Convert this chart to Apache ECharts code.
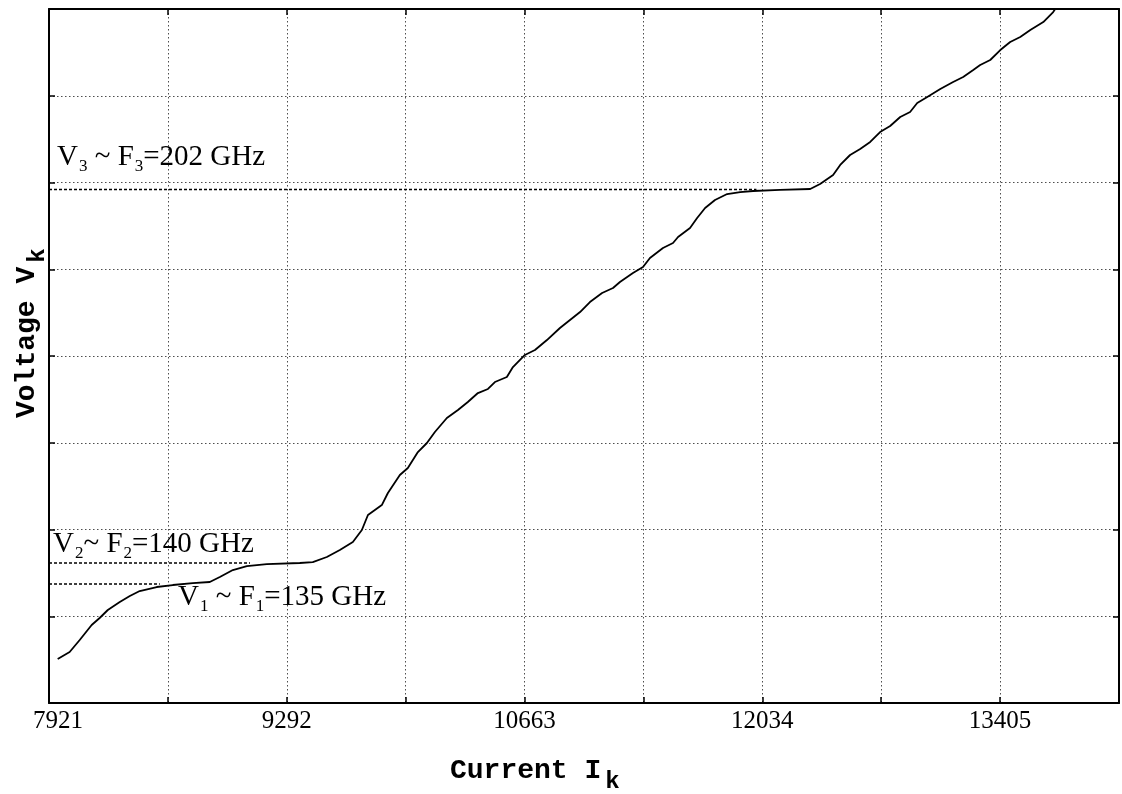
<!DOCTYPE html>
<html>
<head>
<meta charset="utf-8">
<script src="https://cdn.jsdelivr.net/npm/echarts@6/dist/echarts.min.js"></script>
<style>
html,body{margin:0;padding:0;background:#fff;}
#chart{width:1122px;height:794px;}
</style>
</head>
<body>
<div id="chart"></div>
<script>
// ---- data ----
// x tick labels (current I_k), every other minor gridline is labelled
const xTickLabels = [7921, 9292, 10663, 12034, 13405];
// current values along the I-V curve
const currentI = [7971, 8040, 8098, 8167, 8213, 8260, 8329, 8387, 8444, 8542, 8635, 8750, 8848, 8906, 8981, 9062, 9177, 9367, 9442, 9523, 9598, 9673, 9725, 9760, 9840, 9875, 9944, 9990, 10048, 10100, 10146, 10215, 10279, 10336, 10394, 10452, 10492, 10561, 10596, 10665, 10723, 10792, 10867, 10925, 10983, 11040, 11110, 11173, 11213, 11288, 11346, 11386, 11461, 11519, 11548, 11617, 11658, 11704, 11761, 11831, 11906, 11981, 12136, 12310, 12367, 12442, 12483, 12540, 12598, 12656, 12713, 12771, 12829, 12886, 12927, 12985, 13060, 13134, 13192, 13250, 13290, 13348, 13406, 13463, 13521, 13579, 13654, 13711, 13723];
// voltage, in grid divisions (the axis carries no numbers)
const voltageV = [0.507, 0.588, 0.726, 0.899, 0.980, 1.072, 1.164, 1.233, 1.291, 1.337, 1.360, 1.383, 1.395, 1.452, 1.533, 1.579, 1.602, 1.614, 1.625, 1.683, 1.764, 1.856, 1.994, 2.167, 2.282, 2.421, 2.628, 2.709, 2.893, 2.997, 3.124, 3.285, 3.378, 3.470, 3.573, 3.620, 3.700, 3.758, 3.873, 4.012, 4.069, 4.184, 4.323, 4.415, 4.507, 4.622, 4.726, 4.784, 4.853, 4.957, 5.026, 5.130, 5.245, 5.303, 5.372, 5.476, 5.591, 5.706, 5.798, 5.867, 5.890, 5.902, 5.914, 5.925, 5.983, 6.086, 6.202, 6.317, 6.386, 6.467, 6.582, 6.651, 6.755, 6.813, 6.916, 6.986, 7.078, 7.159, 7.216, 7.297, 7.354, 7.412, 7.527, 7.620, 7.677, 7.758, 7.850, 7.965, 8.000];
// step levels (dashed lines)
const levelNames = ['V1', 'V2', 'V3'];
const levelVoltage = [1.372, 1.614, 5.920];
const levelEndCurrent = [8560, 9080, 12000];
// annotation texts
const levelSub = ['1', '2', '3'];
const levelFreq = ['135', '140', '202'];

// ---- chart ----
const X_MIN = 7921, X_STEP = 685.5, X_MAX = 7921 + 9 * 685.5;
const serif = '"Liberation Serif","Times New Roman",serif';
const mono = '"Liberation Mono","Courier New",monospace';

const chart = echarts.init(document.getElementById('chart'), null, {renderer: 'canvas'});

const gridDots = {show: true, lineStyle: {color: '#222', width: 1, type: [1.5, 2.5], opacity: 0.8}};
const frameLine = {show: true, onZero: false, lineStyle: {color: '#000', width: 2}};
const tickIn = {show: true, inside: true, length: 6, lineStyle: {color: '#000', width: 1.5}};

const series = [{
  type: 'line',
  data: currentI.map((c, i) => [c, voltageV[i]]),
  showSymbol: false,
  symbol: 'none',
  lineStyle: {color: '#000', width: 1.8},
  z: 5,
  animation: false
}];
levelVoltage.forEach((v, i) => {
  series.push({
    type: 'line',
    name: levelNames[i],
    data: [[X_MIN, v], [levelEndCurrent[i], v]],
    symbol: 'none',
    lineStyle: {color: '#000', width: 1.5, type: [3, 2]},
    z: 4,
    animation: false
  });
});

function richFor(font, F, S, P) {
  return {
    n: {fontFamily: font, fontSize: F, lineHeight: F, verticalAlign: 'top', fill: '#000', color: '#000'},
    s: {fontFamily: font, fontSize: S, lineHeight: S, padding: [P, 0, 0, 1], verticalAlign: 'top', fill: '#000', color: '#000'}
  };
}
function levelText(i) {
  const sp = i === 1 ? '' : ' ';
  return '{n|V}{s|' + levelSub[i] + '}{n|' + sp + '~ F}{s|' + levelSub[i] + '}{n|=' + levelFreq[i] + ' GHz}';
}
const labelPos = [[178, 583], [53, 530], [57, 143]];

const graphic = levelVoltage.map((v, i) => ({
  type: 'text',
  left: labelPos[i][0],
  top: labelPos[i][1],
  z: 10,
  style: {
    text: levelText(i),
    rich: richFor(serif, 29, 17, 15),
    fill: '#000'
  }
}));
const axisTitleRich = {
  n: {fontFamily: mono, fontWeight: 'bold', fontSize: 28, lineHeight: 28, verticalAlign: 'top', fill: '#000'},
  s: {fontFamily: mono, fontWeight: 'bold', fontSize: 24, lineHeight: 24, padding: [13, 0, 0, 4], verticalAlign: 'top', fill: '#000'}
};
graphic.push({
  type: 'text',
  left: 450,
  top: 757,
  z: 10,
  style: {text: '{n|Current I}{s|k}', rich: axisTitleRich}
});
graphic.push({
  type: 'text',
  x: 13,
  y: 418,
  rotation: Math.PI / 2,
  z: 10,
  style: {text: '{n|Voltage V}{s|k}', rich: axisTitleRich}
});

chart.setOption({
  animation: false,
  backgroundColor: '#fff',
  grid: {left: 49, right: 3, top: 9, bottom: 91, containLabel: false},
  xAxis: [{
    type: 'value', min: X_MIN, max: X_MAX, interval: X_STEP, position: 'bottom',
    axisLine: frameLine, axisTick: tickIn, splitLine: gridDots,
    axisLabel: {
      show: true, color: '#000', fontFamily: serif, fontSize: 25, margin: 6,
      showMaxLabel: false,
      rich: {first: {fontFamily: serif, fontSize: 25, color: '#000', padding: [0, 0, 0, 18]}},
      formatter: function (val) {
        const k = Math.round((val - X_MIN) / X_STEP);
        if (k % 2 !== 0) return '';
        const lab = xTickLabels[k / 2];
        if (lab === undefined) return '';
        return k === 0 ? '{first|' + lab + '}' : String(lab);
      }
    }
  }, {
    type: 'value', min: X_MIN, max: X_MAX, interval: X_STEP, position: 'top',
    axisLine: frameLine, axisTick: tickIn, splitLine: {show: false}, axisLabel: {show: false}
  }],
  yAxis: [{
    type: 'value', min: 0, max: 8, interval: 1, position: 'left',
    axisLine: frameLine, axisTick: tickIn, splitLine: gridDots, axisLabel: {show: false}
  }, {
    type: 'value', min: 0, max: 8, interval: 1, position: 'right',
    axisLine: frameLine, axisTick: tickIn, splitLine: {show: false}, axisLabel: {show: false}
  }],
  series: series,
  graphic: graphic
});
</script>
</body>
</html>
